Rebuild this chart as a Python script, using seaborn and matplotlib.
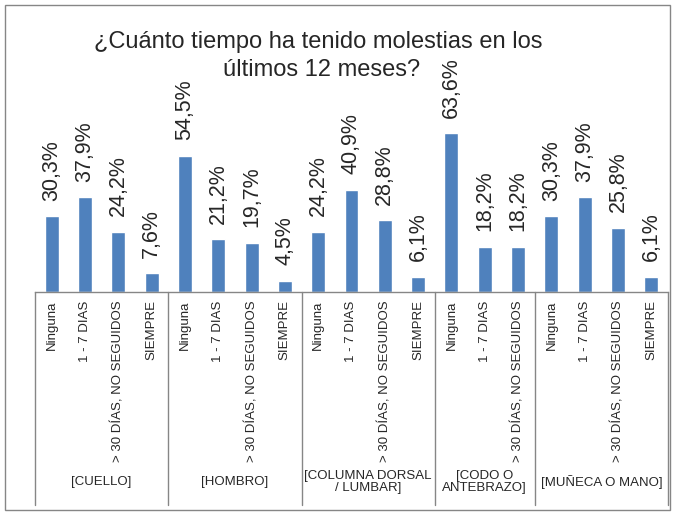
import pandas as pd
import matplotlib
matplotlib.use("Agg")
import matplotlib.pyplot as plt
import matplotlib.transforms as mtransforms
from matplotlib.patches import Rectangle
import seaborn as sns

# Datos del grafico
grupos = ["[CUELLO]", "[HOMBRO]", "[COLUMNA DORSAL\n/ LUMBAR]", "[CODO O\nANTEBRAZO]", "[MUÑECA O MANO]"]
categorias_grupo = [
    ["Ninguna", "1 - 7 DIAS", "> 30 DÍAS, NO SEGUIDOS", "SIEMPRE"],
    ["Ninguna", "1 - 7 DIAS", "> 30 DÍAS, NO SEGUIDOS", "SIEMPRE"],
    ["Ninguna", "1 - 7 DIAS", "> 30 DÍAS, NO SEGUIDOS", "SIEMPRE"],
    ["Ninguna", "1 - 7 DIAS", "> 30 DÍAS, NO SEGUIDOS"],
    ["Ninguna", "1 - 7 DIAS", "> 30 DÍAS, NO SEGUIDOS", "SIEMPRE"],
]
cuello = [30.3, 37.9, 24.2, 7.6]
hombro = [54.5, 21.2, 19.7, 4.5]
columna = [24.2, 40.9, 28.8, 6.1]
codo = [63.6, 18.2, 18.2]
muneca = [30.3, 37.9, 25.8, 6.1]
valores_grupo = [cuello, hombro, columna, codo, muneca]
titulo = ["¿Cuánto tiempo ha tenido molestias en los", "últimos 12 meses?"]

filas = []
for g, cats, vals in zip(grupos, categorias_grupo, valores_grupo):
    for c, v in zip(cats, vals):
        filas.append({"clave": g + "|" + c, "grupo": g, "categoria": c, "valor": v / 100})
df = pd.DataFrame(filas)

sns.set_style("white")
plt.rcParams["font.family"] = ["Liberation Sans", "DejaVu Sans"]

W, H = 675, 515
fig = plt.figure(figsize=(W / 100, H / 100), dpi=100)
ax = fig.add_axes([35 / W, 1 - 292 / H, 633 / W, 250 / H])

azul = "#4F81BD"
gris = "#868686"

sns.barplot(data=df, x="clave", y="valor", color=azul, saturation=1,
            width=0.42, errorbar=None, ax=ax)

ax.set_xlim(-0.5, len(df) - 0.5)
ax.set_ylim(0, 1.0)
ax.set_xlabel("")
ax.set_ylabel("")
ax.set_yticks([])
ax.set_xticks(range(len(df)))
ax.set_xticklabels(df["categoria"], rotation=90, fontsize=9.5, va="top", ha="center")
ax.tick_params(axis="x", length=0, pad=6)
for s in ["left", "top", "right"]:
    ax.spines[s].set_visible(False)
ax.spines["bottom"].set_color(gris)
ax.spines["bottom"].set_linewidth(1)

# Etiquetas de valor
etiquetas = [f"{v * 100:.1f}%".replace(".", ",") for v in df["valor"]]
ax.bar_label(ax.containers[0], labels=etiquetas, rotation=90, padding=11,
             fontsize=15.5)

# Separadores y etiquetas de grupo
trans = mtransforms.blended_transform_factory(ax.transData, ax.transAxes)
bordes = [-0.5]
for vals in valores_grupo:
    bordes.append(bordes[-1] + len(vals))
for b in bordes:
    ax.plot([b, b], [0, -0.852], transform=trans, color=gris, lw=1, clip_on=False)
for i, g in enumerate(grupos):
    centro = (bordes[i] + bordes[i + 1]) / 2
    ax.text(centro, -0.76, g, transform=trans, ha="center", va="center",
            fontsize=9.5, linespacing=1.0)

# Titulo (dos lineas)
fig.text(318 / W, 1 - 48 / H, titulo[0], ha="center", va="baseline", fontsize=17)
fig.text(322 / W, 1 - 76 / H, titulo[1], ha="center", va="baseline", fontsize=17)

# Borde del area del grafico
fig.patches.append(Rectangle((5 / W, 5 / H), 665 / W, 505 / H, transform=fig.transFigure,
                             fill=False, edgecolor=gris, lw=1))

fig.savefig("out.png", dpi=100)
